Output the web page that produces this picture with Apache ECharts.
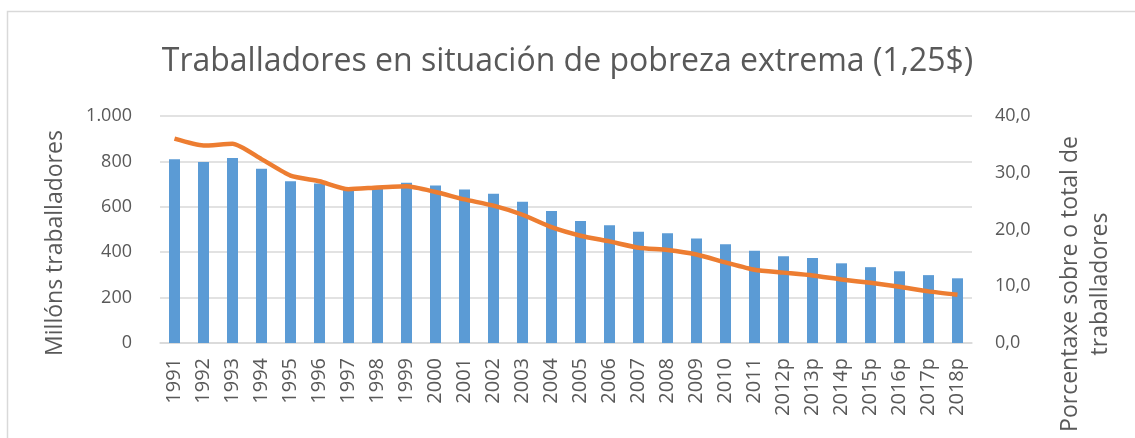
<!DOCTYPE html>
<html>
<head>
<meta charset="utf-8">
<script src="https://cdn.jsdelivr.net/npm/echarts@6/dist/echarts.min.js"></script>
<style>
html,body{margin:0;padding:0;background:#fff;}
#c{width:1135px;height:438px;}
</style>
</head>
<body>
<div id="c"></div>
<script>
const categories = ['1991','1992','1993','1994','1995','1996','1997','1998','1999','2000','2001','2002','2003','2004','2005','2006','2007','2008','2009','2010','2011','2012p','2013p','2014p','2015p','2016p','2017p','2018p'];
const workers = [809,797,815,768,713,703,676,679,706,694,676,657,622,581,537,519,490,484,460,435,406,382,375,351,334,316,299,285];
const percent = [36.0,34.8,35.1,32.4,29.5,28.5,27.1,27.4,27.6,26.6,25.3,24.2,22.6,20.4,18.9,17.9,16.8,16.4,15.6,14.2,12.9,12.4,11.9,11.2,10.6,9.9,9.1,8.5];
const titleText = 'Traballadores en situación de pobreza extrema (1,25$)';
const leftName = 'Millóns traballadores';
const rightName = 'Porcentaxe sobre o total de\ntraballadores';

const FONT = '"Open Sans", sans-serif';
const TXT = '#595959';
const GRID = '#D9D9D9';

const chart = echarts.init(document.getElementById('c'));
chart.setOption({
  animation: false,
  title: {
    text: titleText, left: 'center', top: 41,
    textStyle: {fontFamily: FONT, fontSize: 32, fontWeight: 'normal', color: TXT}
  },
  grid: {left: 160, right: 163, top: 116, bottom: 95, containLabel: false},
  xAxis: {
    type: 'category', data: categories,
    axisLine: {lineStyle: {color: GRID, width: 1.5}},
    axisTick: {show: false},
    axisLabel: {rotate: 90, interval: 0, margin: 15, color: TXT, fontFamily: FONT, fontSize: 20}
  },
  yAxis: [{
    type: 'value', min: 0, max: 1000, interval: 200,
    axisLine: {show: false}, axisTick: {show: false},
    splitLine: {lineStyle: {color: GRID, width: 1.5}},
    axisLabel: {margin: 28, color: TXT, fontFamily: FONT, fontSize: 18,
      formatter: v => v >= 1000 ? (v/1000) + '.' + String(v%1000).padStart(3,'0') : String(v)}
  }, {
    type: 'value', min: 0, max: 40, interval: 10, position: 'right',
    axisLine: {show: false}, axisTick: {show: false}, splitLine: {show: false},
    axisLabel: {margin: 23, color: TXT, fontFamily: FONT, fontSize: 18,
      formatter: v => v.toFixed(1).replace('.', ',')}
  }],
  series: [{
    type: 'bar', data: workers, yAxisIndex: 0, barWidth: 11,
    itemStyle: {color: '#5B9BD5'}
  }, {
    type: 'line', data: percent, yAxisIndex: 1, smooth: 0.2,
    symbol: 'none', lineStyle: {color: '#ED7D31', width: 4.5}
  }],
  graphic: [{
    type: 'rect', silent: true,
    shape: {x: 7.5, y: 11.5, width: 1300, height: 600},
    style: {fill: 'none', stroke: GRID, lineWidth: 1.5}
  }, {
    type: 'text', x: 55, y: 243, rotation: Math.PI/2,
    style: {text: leftName, align: 'center', verticalAlign: 'middle', fill: TXT, font: '23px ' + FONT}
  }, {
    type: 'text', x: 1085, y: 284, rotation: Math.PI/2,
    style: {text: rightName, align: 'center', verticalAlign: 'middle', fill: TXT, font: '23px ' + FONT, lineHeight: 30}
  }]
});
</script>
</body>
</html>
